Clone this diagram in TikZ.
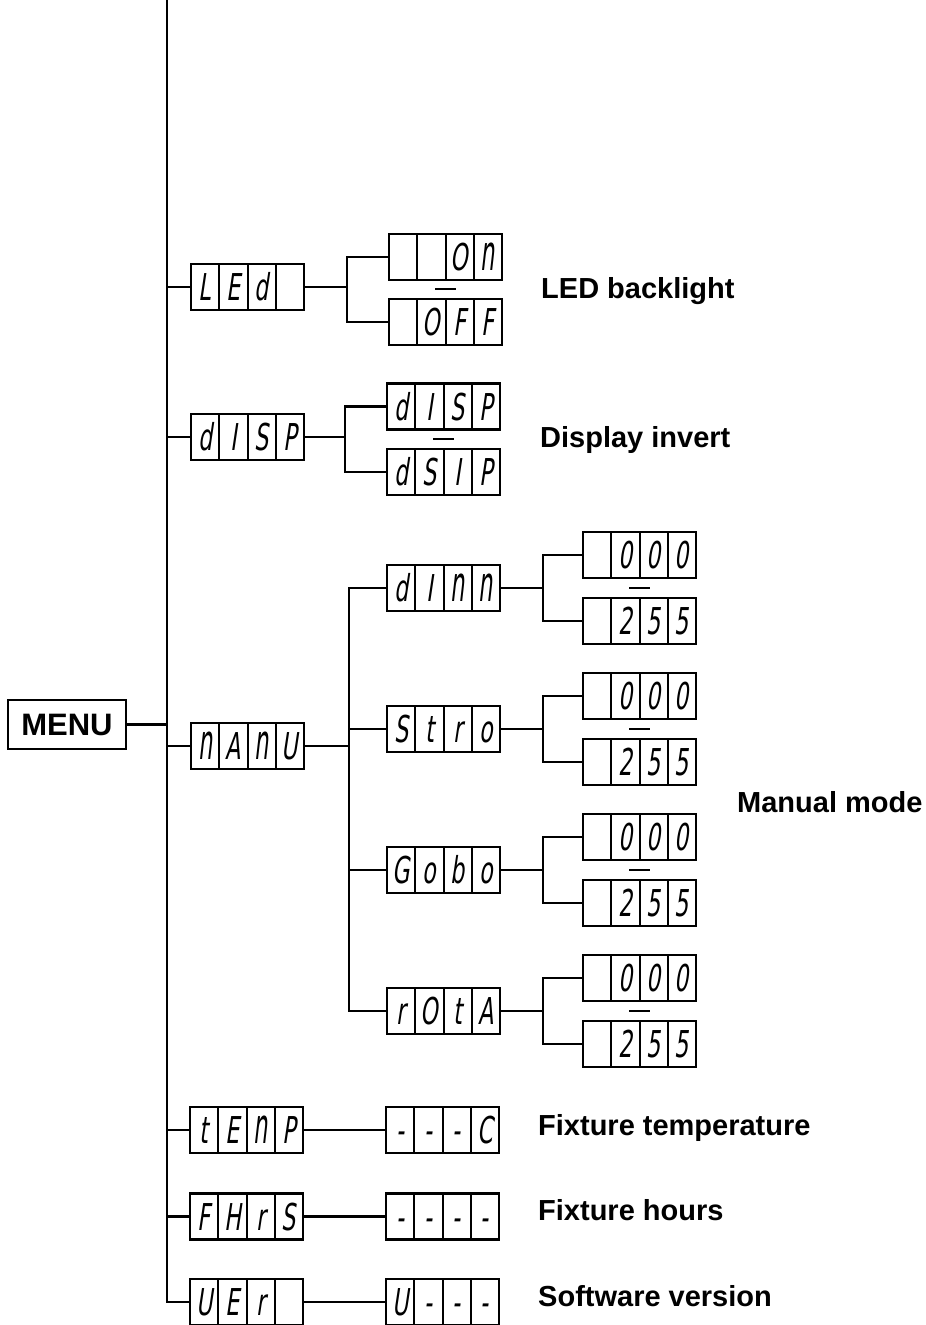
\documentclass[tikz,border=0pt]{standalone}
\usepackage{fontspec}
\setmainfont{Liberation Sans}
\newfontfamily\segfont[FakeSlant=0.15,FakeStretch=0.6]{DejaVu Sans}
\newcommand\tN{\scalebox{1}[1.33]{n}}
\tikzset{
  ln/.style={line width=2.2pt},
  outerbox/.style={draw, line width=2.2pt, minimum width=113pt, minimum height=46pt, inner sep=0pt},
  cellbox/.style={draw, line width=2pt, minimum width=28.25pt, minimum height=46pt, inner sep=0pt,
     text height=27pt, text depth=0pt, font=\segfont\fontsize{37}{37}\selectfont},
  lbl/.style={anchor=base west, inner sep=0pt, font=\bfseries\fontsize{29}{29}\selectfont},
}
\newcommand\dispbox[7]{%
  \node[outerbox] (#1) at ({#2+56.5},{#3}) {};
  \node[cellbox] (#1-1) at ({#2+14.125},{#3}) {#4};
  \node[cellbox] (#1-2) at ({#2+42.375},{#3}) {#5};
  \node[cellbox] (#1-3) at ({#2+70.625},{#3}) {#6};
  \node[cellbox] (#1-4) at ({#2+98.875},{#3}) {#7};
}
\begin{document}
\begin{tikzpicture}[x=1pt,y=-1pt]
\useasboundingbox (0,0) rectangle (926,1325);
% main line
\coordinate (mtop) at (167,0);
\coordinate (mbot) at (167,1302);
\node[draw, line width=2.2pt, minimum width=118pt, minimum height=49pt, inner sep=0pt,
  font=\bfseries\fontsize{31}{31}\selectfont] (menu) at (67,724.5) {MENU};
% first level
\dispbox{led}{191}{287}{L}{E}{d}{}
\dispbox{disp}{191}{437}{d}{I}{S}{P}
\dispbox{manu}{191}{746}{\tN}{A}{\tN}{U}
\dispbox{temp}{190}{1130}{t}{E}{\tN}{P}
\dispbox{fhrs}{190}{1216.5}{F}{H}{r}{S}
\dispbox{ver}{190}{1302}{U}{E}{r}{}
% LED values
\dispbox{ledon}{389}{257}{}{}{O}{\tN}
\dispbox{ledoff}{389}{322}{}{O}{F}{F}
% DISP values
\dispbox{dispa}{387}{406.5}{d}{I}{S}{P}
\dispbox{dispb}{387}{472}{d}{S}{I}{P}
% MANU sub items
\dispbox{dimm}{387}{588}{d}{I}{\tN}{\tN}
\dispbox{stro}{387}{729}{S}{t}{r}{o}
\dispbox{gobo}{387}{870}{G}{o}{b}{o}
\dispbox{rota}{387}{1011}{r}{O}{t}{A}
\dispbox{dimma}{583}{555}{}{0}{0}{0}
\dispbox{dimmb}{583}{621}{}{2}{5}{5}
\dispbox{stroa}{583}{696}{}{0}{0}{0}
\dispbox{strob}{583}{762}{}{2}{5}{5}
\dispbox{goboa}{583}{837}{}{0}{0}{0}
\dispbox{gobob}{583}{903}{}{2}{5}{5}
\dispbox{rotaa}{583}{978}{}{0}{0}{0}
\dispbox{rotab}{583}{1044}{}{2}{5}{5}
% value boxes bottom rows
\dispbox{tempv}{386}{1130}{-}{-}{-}{C}
\dispbox{fhrsv}{386}{1216.5}{-}{-}{-}{-}
\dispbox{verv}{386}{1302}{U}{-}{-}{-}
% connectors
\draw[ln] (mtop) -- (mbot) -- (ver.west);
\draw[ln] (menu.east) -- (menu.east -| mtop);
\draw[ln] (led.west) -- (led.west -| mtop);
\draw[ln] (disp.west) -- (disp.west -| mtop);
\draw[ln] (manu.west) -- (manu.west -| mtop);
\draw[ln] (temp.west) -- (temp.west -| mtop);
\draw[ln] (fhrs.west) -- (fhrs.west -| mtop);
\draw[ln] (temp.east) -- (tempv.west);
\draw[ln] (fhrs.east) -- (fhrsv.west);
\draw[ln] (ver.east) -- (verv.west);
% LED branch
\coordinate (ledj) at (347,287);
\draw[ln] (led.east) -- (ledj);
\draw[ln] (ledon.west) -| (ledj) |- (ledoff.west);
\draw[ln] ([xshift=-10.5pt]ledon.center |- 0,289) -- ([xshift=10.5pt]ledon.center |- 0,289);
% DISP branch
\coordinate (dispj) at (345,437);
\draw[ln] (disp.east) -- (dispj);
\draw[ln] (dispa.west) -| (dispj) |- (dispb.west);
\draw[ln] ([xshift=-10.5pt]dispa.center |- 0,439) -- ([xshift=10.5pt]dispa.center |- 0,439);
% MANU branch
\coordinate (mj) at (349,746);
\draw[ln] (manu.east) -- (mj);
\draw[ln] (dimm.west) -| (mj) |- (rota.west);
\draw[ln] (stro.west) -- (stro.west -| mj);
\draw[ln] (gobo.west) -- (gobo.west -| mj);
\foreach \s in {dimm,stro,gobo,rota}{
  \coordinate (\s j) at ([xshift=42pt]\s.east);
  \draw[ln] (\s.east) -- (\s j);
  \draw[ln] (\s a.west) -| (\s j) |- (\s b.west);
  \draw[ln] ([xshift=-10.5pt]\s a.center |- \s.center) -- ([xshift=10.5pt]\s a.center |- \s.center);
}
% labels
\node[lbl] (l1) at (541,298) {LED backlight};
\node[lbl] (l2) at (540,447.5) {Display invert};
\node[lbl] (l3) at (737,812) {Manual mode};
\node[lbl] (l4) at (538,1135) {Fixture temperature};
\node[lbl] (l5) at (538,1220) {Fixture hours};
\node[lbl] (l6) at (538,1306) {Software version};
\end{tikzpicture}
\end{document}
